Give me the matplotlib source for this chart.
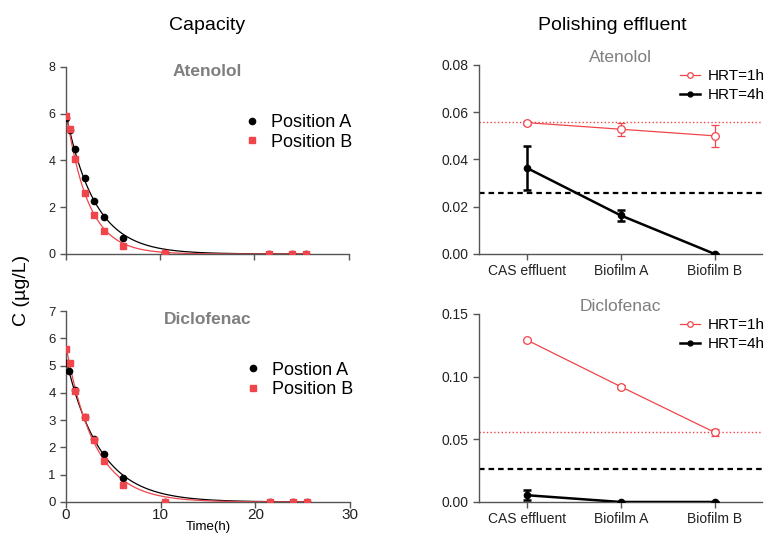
import numpy as np
import matplotlib
matplotlib.use("Agg")
import matplotlib.pyplot as plt
from matplotlib.lines import Line2D

plt.rcParams["font.family"] = ["Liberation Sans", "DejaVu Sans"]

# --- capacity data (time in h, concentration in ug/L) ---
time_a = [0, 0.4, 1.0, 2.0, 3.0, 4.0, 6.0, 10.5, 21.5, 24.0, 25.5]
time_b = [0, 0.4, 1.0, 2.0, 3.0, 4.0, 6.0, 10.5, 21.5, 24.0, 25.5]

aten_pos_a = [5.8, 5.3, 4.48, 3.25, 2.28, 1.6, 0.68, 0.03, 0.0, 0.0, 0.0]
aten_pos_b = [5.9, 5.36, 4.08, 2.6, 1.65, 1.0, 0.36, 0.04, 0.01, 0.01, 0.01]

diclo_time_a = [0, 0.3, 1.0, 2.0, 3.0, 4.0, 6.0, 10.5, 21.5, 24.0, 25.5]
diclo_pos_a = [5.1, 4.8, 4.1, 3.1, 2.3, 1.76, 0.87, 0.0, 0.0, 0.0, 0.0]
diclo_pos_b = [5.62, 5.1, 4.05, 3.12, 2.26, 1.52, 0.63, 0.0, 0.0, 0.0, 0.0]

# --- polishing effluent data (ug/L) ---
stages = ["CAS effluent", "Biofilm A", "Biofilm B"]
aten_hrt1 = [0.0556, 0.0528, 0.0500]
aten_hrt1_err = [0.0008, 0.0027, 0.0046]
aten_hrt4 = [0.0364, 0.0163, 0.0]
aten_hrt4_err = [0.0092, 0.0024, 0.0]
diclo_hrt1 = [0.1292, 0.0920, 0.0555]
diclo_hrt1_err = [0.0012, 0.0015, 0.0025]
diclo_hrt4 = [0.0054, 0.0, 0.0]
diclo_hrt4_err = [0.0038, 0.0, 0.0]
ref_hrt1 = 0.056
ref_hrt4 = 0.026

RED = "#f0454a"
GREY = "#7f7f7f"
AXC = "#555555"


def fit_decay(t, c):
    """One-phase decay fit C = C0*exp(-k t), least squares over a k grid."""
    t = np.asarray(t, float)
    c = np.asarray(c, float)
    best = None
    for k in np.linspace(0.05, 1.5, 2901):
        e = np.exp(-k * t)
        c0 = np.sum(c * e) / np.sum(e * e)
        err = np.sum((c - c0 * e) ** 2)
        if best is None or err < best[0]:
            best = (err, c0, k)
    return best[1], best[2]


def style_axes(ax, size):
    for s in ["top", "right"]:
        ax.spines[s].set_visible(False)
    for s in ["left", "bottom"]:
        ax.spines[s].set_color(AXC)
        ax.spines[s].set_linewidth(1.0)
    ax.tick_params(colors=AXC, labelcolor="#222222", length=4, width=1.0,
                   labelsize=size)


def capacity_panel(ax, ta, ya, tb, yb, title, labels, ymax, show_x, y_title,
                   y_leg):
    tt = np.linspace(0, 25.5, 300)
    for t, y, col in [(ta, ya, "black"), (tb, yb, RED)]:
        c0, k = fit_decay(t, y)
        ax.plot(tt, c0 * np.exp(-k * tt), color=col, lw=0.9, zorder=2)
    ax.plot(ta, ya, "o", color="black", ms=4.5, ls="none", zorder=3)
    ax.plot(tb, yb, "s", color=RED, ms=4.8, ls="none", zorder=4)
    ax.set_xlim(0, 30)
    ax.set_ylim(0, ymax)
    ax.set_xticks([0, 10, 20, 30])
    ax.set_yticks(range(0, ymax + 1, 2 if ymax == 8 else 1))
    style_axes(ax, 9.5 if show_x else 9)
    if not show_x:
        ax.set_xticklabels([])
    else:
        ax.tick_params(axis="x", labelsize=11, pad=0.5)
    ax.text(0.5, y_title, title, transform=ax.transAxes, ha="center",
            va="center", fontsize=12.5, fontweight="bold", color=GREY)
    handles = [Line2D([], [], marker="o", color="black", ls="none", ms=4.5),
               Line2D([], [], marker="s", color=RED, ls="none", ms=4.8)]
    ax.legend(handles, labels, loc="upper left", bbox_to_anchor=(0.57, y_leg),
              frameon=False, fontsize=13, handletextpad=0.55,
              handlelength=1.0, labelspacing=0.15)


def effluent_panel(ax, y1, e1, y4, e4, title, ymax, step):
    x = np.arange(len(stages))
    ax.axhline(ref_hrt1, color=RED, ls=":", lw=1.0, zorder=1)
    ax.axhline(ref_hrt4, color="black", ls=(0, (2.5, 1.8)), lw=1.6, zorder=1)
    ax.errorbar(x, y1, yerr=e1, color=RED, lw=0.9, marker="o", ms=5.5,
                mfc="white", mec=RED, mew=0.9, capsize=3, elinewidth=0.9,
                capthick=0.9, zorder=3)
    ax.errorbar(x, y4, yerr=e4, color="black", lw=1.8, marker="o", ms=4.5,
                capsize=3, elinewidth=1.8, capthick=1.8, zorder=4)
    ax.set_xlim(-0.51, 2.5)
    ax.set_ylim(0, ymax)
    ax.set_xticks(x)
    ax.set_xticklabels(stages)
    ax.set_yticks(np.arange(0, ymax + step / 2, step))
    ax.yaxis.set_major_formatter(plt.FormatStrFormatter("%.2f"))
    style_axes(ax, 10)
    ax.text(0.5, 1.04, title, transform=ax.transAxes, ha="center",
            va="center", fontsize=12.5, color=GREY)
    handles = [Line2D([], [], color=RED, lw=0.9, marker="o", ms=4,
                      mfc="white", mec=RED, mew=0.9),
               Line2D([], [], color="black", lw=1.8, marker="o", ms=3.5)]
    ax.legend(handles, ["HRT=1h", "HRT=4h"], loc="upper right",
              bbox_to_anchor=(1.06, 1.05), frameon=False, fontsize=11,
              handlelength=1.3, handletextpad=0.5, labelspacing=0.3)


fig = plt.figure(figsize=(7.64, 5.33), dpi=100)

ax1 = fig.add_axes([0.0864, 0.5235, 0.370, 0.3508])
ax2 = fig.add_axes([0.0864, 0.0582, 0.3717, 0.3583])
ax3 = fig.add_axes([0.627, 0.5235, 0.370, 0.3546])
ax4 = fig.add_axes([0.627, 0.0582, 0.370, 0.3527])

capacity_panel(ax1, time_a, aten_pos_a, time_b, aten_pos_b, "Atenolol",
               ["Position A", "Position B"], 8, False, 0.975, 0.835)
capacity_panel(ax2, diclo_time_a, diclo_pos_a, time_b, diclo_pos_b,
               "Diclofenac", ["Postion A", "Position B"], 7, True, 0.955,
               0.82)
ax2.text(0.5, -0.13, "Time(h)", transform=ax2.transAxes, ha="center",
         va="center", fontsize=9.5)

effluent_panel(ax3, aten_hrt1, aten_hrt1_err, aten_hrt4, aten_hrt4_err,
               "Atenolol", 0.08, 0.02)
effluent_panel(ax4, diclo_hrt1, diclo_hrt1_err, diclo_hrt4, diclo_hrt4_err,
               "Diclofenac", 0.15, 0.05)

fig.text(207 / 764, 1 - 25 / 533, "Capacity", ha="center", va="center",
         fontsize=14)
fig.text(612 / 764, 1 - 25 / 533, "Polishing effluent", ha="center",
         va="center", fontsize=14)
fig.text(22 / 764, 1 - 290 / 533, "C (\u00b5g/L)", ha="center", va="center",
         rotation=90, fontsize=14)

fig.savefig("out.png", dpi=100)
